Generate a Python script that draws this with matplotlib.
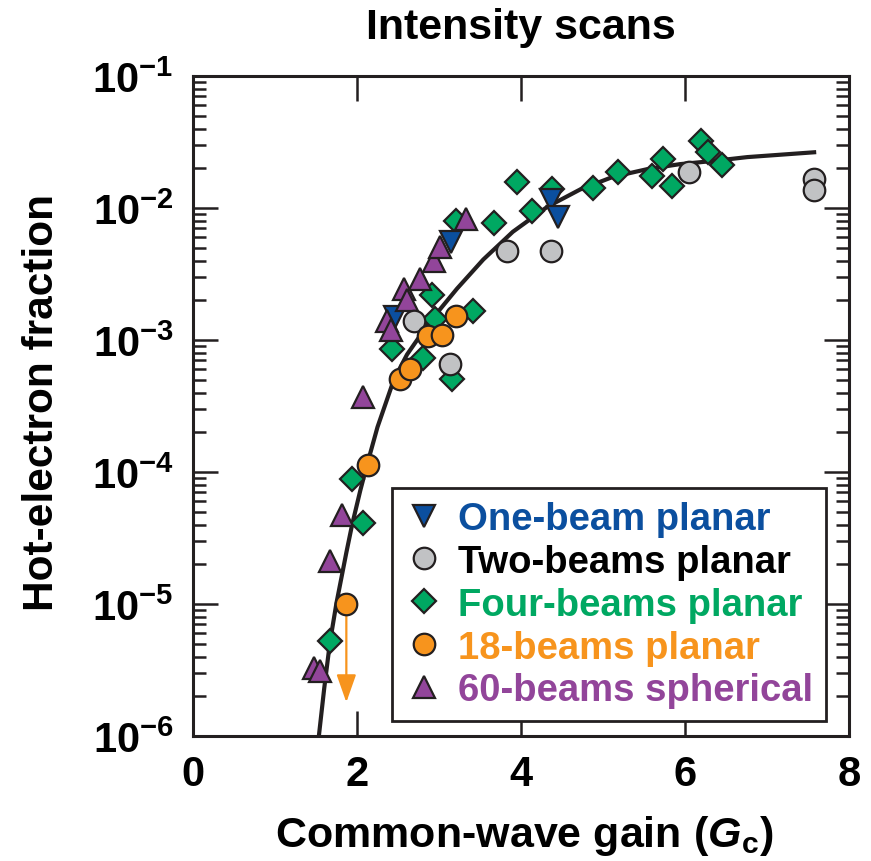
import matplotlib
matplotlib.use("Agg")
import matplotlib.pyplot as plt
from matplotlib.ticker import LogLocator, NullFormatter

plt.rcParams['font.family'] = ['Liberation Sans', 'DejaVu Sans']
plt.rcParams['font.weight'] = 'bold'
plt.rcParams['mathtext.fontset'] = 'custom'
plt.rcParams['mathtext.rm'] = 'Liberation Sans:bold'
plt.rcParams['mathtext.bf'] = 'Liberation Sans:bold'
plt.rcParams['mathtext.bfit'] = 'Liberation Sans:italic:bold'

# hot-electron fraction vs common-wave gain, per beam configuration
one_beam_x = [2.46, 3.15, 4.37, 4.45]
one_beam_y = [1.5e-3, 5.5e-3, 1.15e-2, 8.5e-3]

two_beam_x = [2.70, 3.13, 3.83, 4.37, 6.05, 7.57, 7.57]
two_beam_y = [1.4e-3, 6.6e-4, 4.7e-3, 4.7e-3, 1.87e-2, 1.66e-2, 1.37e-2]

four_beam_x = [1.67, 1.94, 2.07, 2.43, 2.81, 2.95, 2.91, 3.16, 3.41, 3.21, 3.67,
               3.95, 4.13, 4.38, 4.88, 5.18, 5.60, 5.73, 5.84, 6.20, 6.28, 6.45]
four_beam_y = [5.2e-6, 8.85e-5, 4.1e-5, 8.5e-4, 7.3e-4, 1.45e-3, 2.2e-3, 5.1e-4,
               1.66e-3, 8.0e-3, 7.7e-3, 1.57e-2, 9.5e-3, 1.39e-2, 1.42e-2, 1.87e-2,
               1.75e-2, 2.35e-2, 1.47e-2, 3.2e-2, 2.65e-2, 2.12e-2]

beams18_x = [1.87, 2.13, 2.52, 2.65, 2.87, 3.04, 3.21]
beams18_y = [1.0e-5, 1.13e-4, 5.07e-4, 6.0e-4, 1.07e-3, 1.1e-3, 1.52e-3]

beams60_x = [1.47, 1.55, 1.67, 1.82, 2.07, 2.37, 2.41, 2.57, 2.61, 2.77, 2.94, 3.01, 3.33]
beams60_y = [3.3e-6, 3.1e-6, 2.1e-5, 4.7e-5, 3.7e-4, 1.4e-3, 1.2e-3, 2.44e-3, 2.0e-3,
             2.9e-3, 4.0e-3, 5.1e-3, 8.3e-3]

# upper limit for the lowest 18-beam shot
limit_x = 1.87
limit_y = 1.8e-6

# fitted trend
fit_x = [1.535, 1.60, 1.67, 1.75, 1.87, 1.94, 2.04, 2.12, 2.25, 2.45, 2.61, 2.89, 3.22,
         3.54, 3.90, 4.32, 4.72, 5.12, 5.54, 5.94, 6.34, 6.76, 7.60]
fit_y = [1.0e-6, 2.29e-6, 5.13e-6, 1.02e-5, 2.45e-5, 3.98e-5, 7.24e-5, 1.12e-4, 2.19e-4,
         5.01e-4, 7.76e-4, 1.38e-3, 2.45e-3, 4.07e-3, 6.6e-3, 1.02e-2, 1.38e-2, 1.72e-2,
         1.97e-2, 2.15e-2, 2.27e-2, 2.43e-2, 2.65e-2]

labels = ['One-beam planar', 'Two-beams planar', 'Four-beams planar',
          '18-beams planar', '60-beams spherical']
x_ticks = [0, 2, 4, 6, 8]
y_ticks = [1e-6, 1e-5, 1e-4, 1e-3, 1e-2, 1e-1]
y_tick_labels = [r'$\mathbf{10^{-6}}$', r'$\mathbf{10^{-5}}$', r'$\mathbf{10^{-4}}$',
                 r'$\mathbf{10^{-3}}$', r'$\mathbf{10^{-2}}$', r'$\mathbf{10^{-1}}$']

blue = '#0b4f9f'
grey = '#c1c2c4'
green = '#00a862'
orange = '#f7941d'
purple = '#92459a'
edge = '#231f20'

fig = plt.figure(figsize=(8.71, 8.62), dpi=100)
ax = fig.add_axes([193 / 871, 125 / 862, 656 / 871, 660 / 862])

ax.plot(fit_x, fit_y, color=edge, lw=3, zorder=2, solid_capstyle='butt',
        solid_joinstyle='round')

ax.annotate('', xy=(limit_x, limit_y), xytext=(beams18_x[0], beams18_y[0]),
            arrowprops=dict(arrowstyle='-|>,head_length=0.85,head_width=0.3',
                            color=orange, lw=1.6, mutation_scale=20,
                            shrinkA=0, shrinkB=0), zorder=3)

mk = dict(linestyle='none', markeredgecolor=edge, markeredgewidth=1.6)
h4, = ax.plot(four_beam_x, four_beam_y, 'D', ms=12.5, color=green, zorder=4, **mk)
h1, = ax.plot(one_beam_x, one_beam_y, 'v', ms=16.5, color=blue, zorder=5, **mk)
h5, = ax.plot(beams60_x, beams60_y, '^', ms=16.5, color=purple, zorder=6, **mk)
h2, = ax.plot(two_beam_x, two_beam_y, 'o', ms=15.5, color=grey, zorder=7, **mk)
h3, = ax.plot(beams18_x, beams18_y, 'o', ms=15.5, color=orange, zorder=8, **mk)

ax.set_yscale('log')
ax.set_xlim(0, 8)
ax.set_ylim(1e-6, 1e-1)
ax.set_xticks(x_ticks)
ax.set_xticklabels([str(t) for t in x_ticks])
ax.set_yticks(y_ticks)
ax.set_yticklabels(y_tick_labels)
ax.yaxis.set_minor_locator(LogLocator(base=10, subs=range(2, 10), numticks=20))
ax.yaxis.set_minor_formatter(NullFormatter())

for s in ax.spines.values():
    s.set_linewidth(2.2)
    s.set_color(edge)
ax.tick_params(which='major', direction='in', length=18, width=1.8, color=edge,
               top=True, right=True, labelsize=30, pad=14)
ax.tick_params(which='minor', direction='in', length=9.5, width=1.8, color=edge,
               left=True, right=True)
ax.tick_params(axis='x', which='major', pad=13)

fig.text(521 / 871, 1 - 28 / 862, 'Intensity scans', ha='center', va='center',
         fontsize=31, fontweight='bold')
fig.text(42 / 871, 1 - 403 / 862, 'Hot-electron fraction', ha='center', va='center',
         rotation=90, fontsize=30.5, fontweight='bold')
fig.text(524 / 871, 1 - 836 / 862, r'Common-wave gain ($\mathbfit{G}_\mathbf{c}$)',
         ha='center', va='center', fontsize=31, fontweight='bold')

handles = [h1, h2, h4, h3, h5]
leg = ax.legend(handles, labels, loc='lower right',
                bbox_to_anchor=(826 / 871, 1 - 722 / 862), bbox_transform=fig.transFigure,
                borderaxespad=0, frameon=True, fancybox=False, framealpha=1,
                edgecolor=edge, prop={'size': 27.5, 'weight': 'bold'},
                handlelength=1.0, handletextpad=0.4, borderpad=0.33, labelspacing=0.18,
                numpoints=1)
leg.get_frame().set_linewidth(2.0)
leg.set_zorder(10)
for txt, c in zip(leg.get_texts(), [blue, 'black', green, orange, purple]):
    txt.set_color(c)

fig.savefig('out.png', dpi=100)
